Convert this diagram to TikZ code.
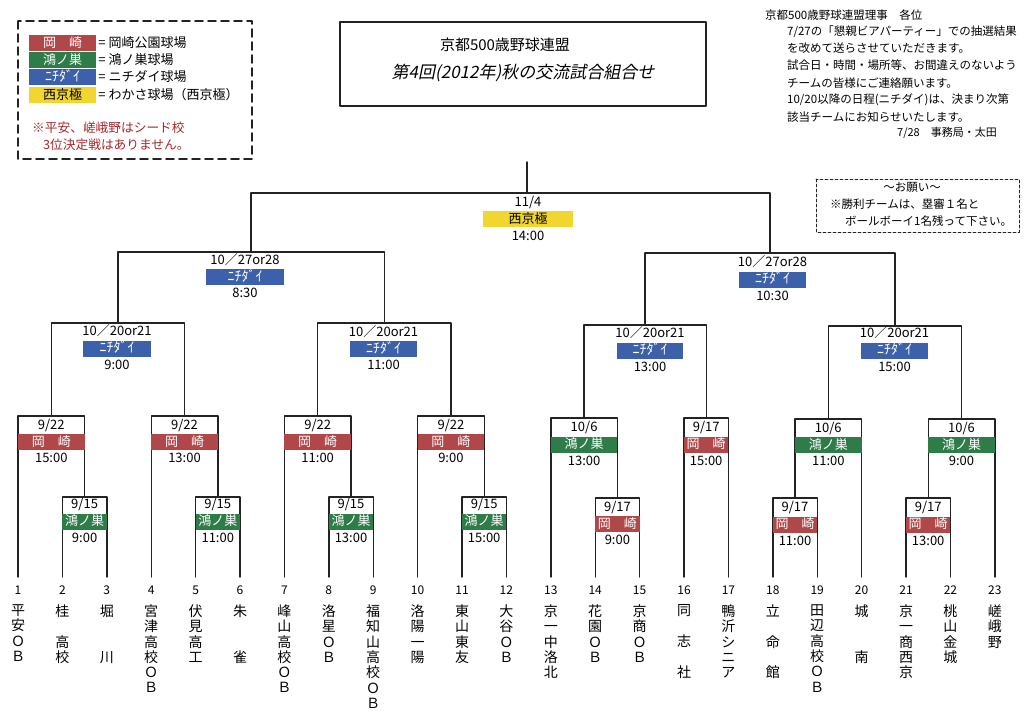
\documentclass[tikz,border=0pt]{standalone}
\usepackage{fontspec}
\setmainfont{Noto Sans CJK JP}
\newfontfamily\slantjp[FakeSlant=0.2]{Noto Sans CJK JP}
\usetikzlibrary{positioning}

\definecolor{okred}{RGB}{176,72,74}
\definecolor{kongreen}{RGB}{46,124,72}
\definecolor{nichiblue}{RGB}{60,96,170}
\definecolor{nishiyellow}{RGB}{242,214,48}
\definecolor{notered}{RGB}{168,40,44}
\definecolor{ink}{RGB}{35,35,35}

\tikzset{
  venue/.style={inner sep=0pt, minimum height=16pt, text height=10pt, text depth=1.5pt,
    font=\fontsize{13}{15}\selectfont},
  okz/.style={venue, fill=okred, text=white},
  kon/.style={venue, fill=kongreen, text=white},
  nichi/.style={venue, fill=nichiblue, text=white, font=\fontsize{14}{15}\selectfont},
  nishi/.style={venue, fill=nishiyellow, text=black},
  lbl/.style={inner sep=0pt, text height=9.5pt, text depth=0pt, font=\fontsize{13}{15}\selectfont},
  num/.style={inner sep=0pt, font=\fontsize{12}{14}\selectfont},
  team/.style={inner sep=0pt, align=center, font=\fontsize{14}{15.3}\selectfont},
  bracket/.style={draw=ink, line width=1.4pt},
  legtext/.style={inner sep=0pt, anchor=west, font=\fontsize{13}{15}\selectfont},
  rednote/.style={inner sep=0pt, anchor=west, text=notered, font=\fontsize{12.7}{15}\selectfont},
  memo/.style={inner sep=0pt, anchor=west, font=\fontsize{11.5}{14}\selectfont},
}

\begin{document}
\begin{tikzpicture}[x=1pt, y=-1pt, line join=round, line cap=round]
    \useasboundingbox (0,0) rectangle (1024,719);

    % legend
    \draw[ink, line width=1.8pt, dash pattern=on 8pt off 5pt] (18,21) rectangle (252,159);
    \node[okz, minimum width=67pt] (lg1) at (62.5,43) {岡　崎};
    \node[kon, minimum width=67pt] (lg2) at (62.5,60) {鴻ノ巣};
    \node[nichi, minimum width=67pt] (lg3) at (62.5,77) {ﾆﾁﾀﾞｲ};
    \node[nishi, minimum width=67pt] (lg4) at (62.5,95) {西京極};
    \node[legtext, right=2pt of lg1] (lt1) {= 岡崎公園球場};
    \node[legtext, right=2pt of lg2] (lt2) {= 鴻ノ巣球場};
    \node[legtext, right=2pt of lg3] (lt3) {= ニチダイ球場};
    \node[legtext, right=2pt of lg4] (lt4) {= わかさ球場（西京極）};
    \node[rednote] (seed1) at (32,128) {※平安、嵯峨野はシード校};
    \node[rednote] (seed2) at (43,145) {3位決定戦はありません。};

    % title
    \draw[ink, line width=1.5pt] (340,22) rectangle (706,106);
    \node[inner sep=0pt, font=\fontsize{15}{18}\selectfont] (title1) at (505,45) {京都500歳野球連盟};
    \node[inner sep=0pt, font={\slantjp\fontsize{17}{20}\selectfont}] (title2) at (523,73) {第4回(2012年)秋の交流試合組合せ};

    % memo, top right
    \node[memo] (memo0) at (765,15) {京都500歳野球連盟理事　各位};
    \node[memo] (memo1) at (787,32) {7/27の「懇親ビアパーティー」での抽選結果};
    \node[memo] (memo2) at (787,48) {を改めて送らさせていただきます。};
    \node[memo] (memo3) at (787,65) {試合日・時間・場所等、お間違えのないよう};
    \node[memo] (memo4) at (787,83) {チームの皆様にご連絡願います。};
    \node[memo] (memo5) at (787,100) {10/20以降の日程(ニチダイ)は、決まり次第};
    \node[memo] (memo6) at (787,117) {該当チームにお知らせいたします。};
    \node[memo, font=\fontsize{11}{14}\selectfont] (memo7) at (897,133) {7/28　事務局・太田};

    % request box
    \draw[ink, line width=0.8pt, densely dashed] (816,179) rectangle (1019,232);
    \node[inner sep=0pt, font=\fontsize{11.5}{13}\selectfont] (req0) at (912,187) {～お願い～};
    \node[memo] (req1) at (830,204) {※勝利チームは、塁審１名と};
    \node[memo] (req2) at (845,221) {ボールボーイ1名残って下さい。};

    % teams
    \foreach \i in {1,...,23} {
        \pgfmathsetmacro{\tx}{18+(\i-1)*44.4}
        \coordinate (e\i) at (\tx,577);
        \node[num] (n\i) at (\tx,590) {\i};
    }
    \foreach \i/\name in {1/{平\\安\\Ｏ\\Ｂ}, 2/{桂\\　\\高\\校}, 3/{堀\\　\\　\\川},
        4/{宮\\津\\高\\校\\Ｏ\\Ｂ}, 5/{伏\\見\\高\\工}, 6/{朱\\　\\　\\雀},
        7/{峰\\山\\高\\校\\Ｏ\\Ｂ}, 8/{洛\\星\\Ｏ\\Ｂ}, 9/{福\\知\\山\\高\\校\\Ｏ\\Ｂ},
        10/{洛\\陽\\一\\陽}, 11/{東\\山\\東\\友}, 12/{大\\谷\\Ｏ\\Ｂ},
        13/{京\\一\\中\\洛\\北}, 14/{花\\園\\Ｏ\\Ｂ}, 15/{京\\商\\Ｏ\\Ｂ},
        16/{同\\　\\志\\　\\社}, 17/{鴨\\沂\\シ\\ニ\\ア}, 18/{立\\　\\命\\　\\館},
        19/{田\\辺\\高\\校\\Ｏ\\Ｂ}, 20/{城\\　\\　\\南}, 21/{京\\一\\商\\西\\京},
        22/{桃\\山\\金\\城}, 23/{嵯\\峨\\野}}
        \node[team, below=10pt of n\i] (name\i) {\name};

    % bracket
    \foreach \n/\x/\y in {mA2/84.6/497, mB2/217.8/497, mC2/351/497, mD2/484.2/497,
        mE2/617.4/498, mG2/795/498, mH2/928.2/498,
        mA/51.3/416, mB/184.5/416, mC/317.7/416, mD/450.9/416,
        mE/584.1/418, mF/706.2/418, mG/828.3/419, mH/961.5/419,
        q1/117.9/323, q2/384.3/323, q3/645.15/325, q4/894.9/326,
        s1/251.1/252, s2/770/253, fin/527/193, win/527/162}
        \coordinate (\n) at (\x,\y);
    \foreach \m/\a/\b in {mA2/e2/e3, mB2/e5/e6, mC2/e8/e9, mD2/e11/e12,
        mE2/e14/e15, mG2/e18/e19, mH2/e21/e22,
        mA/e1/mA2, mB/e4/mB2, mC/e7/mC2, mD/e10/mD2,
        mE/e13/mE2, mF/e16/e17, mG/mG2/e20, mH/mH2/e23,
        q1/mA/mB, q2/mC/mD, q3/mE/mF, q4/mG/mH, s1/q1/q2, s2/q3/q4, fin/s1/s2}
        \draw[bracket] (\a) |- (\m) -| (\b);
    \draw[bracket] (fin) -- (win);

    % dates, grounds, times
    \foreach \m/\x/\y/\w/\st/\v/\d/\t in {
        A/51.3/442/66.6/okz/{岡　崎}/{9/22}/{15:00},
        A2/84.6/521.5/44.4/kon/{鴻ノ巣}/{9/15}/{9:00},
        B/184.5/442/66.6/okz/{岡　崎}/{9/22}/{13:00},
        B2/217.8/521.5/44.4/kon/{鴻ノ巣}/{9/15}/{11:00},
        C/317.7/442/66.6/okz/{岡　崎}/{9/22}/{11:00},
        C2/351/521.5/44.4/kon/{鴻ノ巣}/{9/15}/{13:00},
        D/450.9/442/66.6/okz/{岡　崎}/{9/22}/{9:00},
        D2/484.2/521.5/44.4/kon/{鴻ノ巣}/{9/15}/{15:00},
        E/584.1/444.5/66.6/kon/{鴻ノ巣}/{10/6}/{13:00},
        E2/617.4/524/44.4/okz/{岡　崎}/{9/17}/{9:00},
        F/706.2/444.5/44.4/okz/{岡　崎}/{9/17}/{15:00},
        G/828.3/445/66.6/kon/{鴻ノ巣}/{10/6}/{11:00},
        G2/795/524.5/44.4/okz/{岡　崎}/{9/17}/{11:00},
        H/961.5/445/66.6/kon/{鴻ノ巣}/{10/6}/{9:00},
        H2/928.2/524.5/44.4/okz/{岡　崎}/{9/17}/{13:00},
        Q1/117/348.5/68/nichi/{ﾆﾁﾀﾞｲ}/{10／20or21}/{9:00},
        Q2/383.5/349/67/nichi/{ﾆﾁﾀﾞｲ}/{10／20or21}/{11:00},
        Q3/650/350.5/66/nichi/{ﾆﾁﾀﾞｲ}/{10／20or21}/{13:00},
        Q4/894.5/350.5/67/nichi/{ﾆﾁﾀﾞｲ}/{10／20or21}/{15:00},
        S1/245/277/78/nichi/{ﾆﾁﾀﾞｲ}/{10／27or28}/{8:30},
        S2/772.5/279.5/67/nichi/{ﾆﾁﾀﾞｲ}/{10／27or28}/{10:30},
        W/528/219.5/90/nishi/{西京極}/{11/4}/{14:00}} {
        \node[\st, minimum width=\w pt] (v\m) at (\x,\y) {\v};
        \node[lbl, above=4.25pt of v\m] (d\m) {\d};
        \node[lbl, below=2.75pt of v\m] (t\m) {\t};
    }
\end{tikzpicture}
\end{document}
